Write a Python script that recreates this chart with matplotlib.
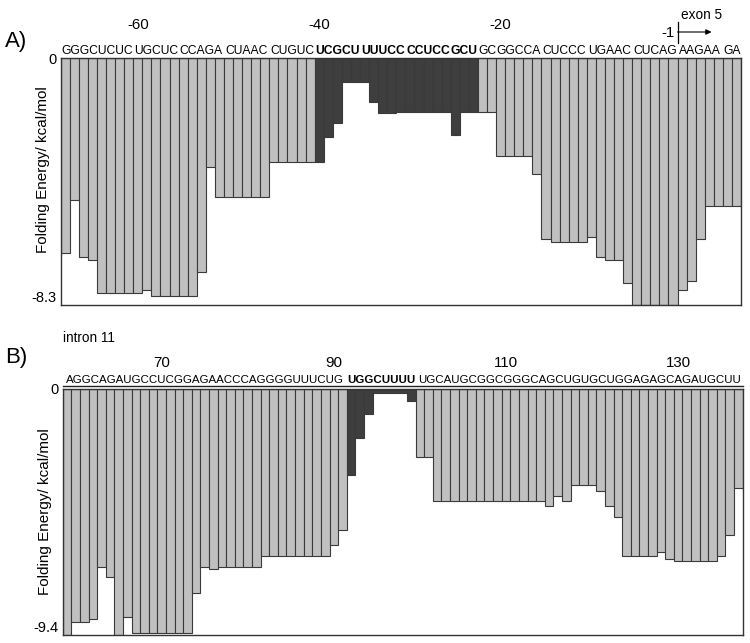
import numpy as np
import matplotlib
matplotlib.use("Agg")
import matplotlib.pyplot as plt
from matplotlib.transforms import blended_transform_factory

plt.rcParams['font.family'] = ['Liberation Sans', 'DejaVu Sans']

# ---------------- data ----------------
# Panel A: region upstream of exon 5 (numbering -68 .. -1, then exon +1 .. +7)
A_seq = "GGGCUCUC UGCUC CCAGA CUAAC CUGUC UCGCU UUUCC CCUCC GCUGC GGCCA CUCCC UGAAC CUCAG AAGAA GA"
A_numbers = list(range(-68, 0)) + list(range(1, 8))
A_bold = (-40, -23)
A_ticks = [-60, -40, -20]
A_exon_label = "exon 5"
A_ymin = -8.3
A_energy = [-6.56, -4.77, -6.70, -6.79, -7.88, -7.88, -7.88, -7.88, -7.88, -7.80,
            -7.99, -7.99, -7.99, -7.99, -7.99, -7.18, -3.67, -4.67, -4.67, -4.67,
            -4.67, -4.67, -4.67, -3.50, -3.50, -3.50, -3.50, -3.50, -3.50, -2.67,
            -2.18, -0.79, -0.79, -0.79, -1.48, -1.84, -1.84, -1.81, -1.81, -1.81,
            -1.81, -1.81, -1.81, -2.58, -1.80, -1.80, -1.80, -1.80, -3.29, -3.29,
            -3.29, -3.29, -3.89, -6.09, -6.19, -6.19, -6.19, -6.19, -6.00, -6.70,
            -6.79, -6.79, -7.57, -8.30, -8.30, -8.30, -8.30, -8.30, -7.80, -7.48,
            -6.09, -4.99, -4.99, -4.99, -4.99]

# Panel B: intron 11
B_seq = "AGGCAGAUGCCUCGGAGAACCCAGGGGUUUCUGUGGCUUUUUGCAUGCGGCGGGCAGCUGUGCUGGAGAGCAGAUGCUU"
B_first = 59
B_numbers = list(range(B_first, B_first + 79))
B_bold = (92, 99)
B_ticks = [70, 90, 110, 130]
B_region_label = "intron 11"
B_ymin = -9.4
B_energy = [-9.40, -8.89, -8.89, -8.79, -6.81, -7.19, -9.40, -8.70, -9.31, -9.31,
            -9.31, -9.31, -9.31, -9.31, -9.31, -7.81, -6.81, -6.89, -6.79, -6.79,
            -6.79, -6.79, -6.79, -6.38, -6.38, -6.38, -6.38, -6.38, -6.38, -6.38,
            -6.38, -5.96, -5.38, -3.30, -1.88, -0.96, -0.15, -0.15, -0.15, -0.15,
            -0.47, -2.58, -2.58, -4.27, -4.27, -4.27, -4.27, -4.27, -4.27, -4.27,
            -4.27, -4.27, -4.27, -4.27, -4.27, -4.27, -4.46, -4.07, -4.27, -3.67,
            -3.67, -3.67, -3.88, -4.46, -4.89, -6.40, -6.40, -6.40, -6.40, -6.21,
            -6.49, -6.59, -6.59, -6.59, -6.59, -6.59, -6.40, -5.59, -3.79]

# ---------------- style ----------------
LIGHT = "#c0c0c0"
DARK = "#3e3e3e"
EDGE = "#3a3a3a"
W, H = 750, 643

fig = plt.figure(figsize=(W / 100, H / 100), dpi=100)
axA = fig.add_axes([60.7 / W, 1 - 305 / H, (741 - 60.7) / W, (305 - 58) / H])
axB = fig.add_axes([62.7 / W, 1 - 635 / H, (742.7 - 62.7) / W, (635 - 389) / H])


def draw_panel(ax, energy, numbers, bold, ymin, ylab_y):
    n = len(energy)
    x = np.arange(n)
    colors = [DARK if bold[0] <= num <= bold[1] else LIGHT for num in numbers]
    ax.bar(x, energy, width=1.0, color=colors, edgecolor=EDGE, linewidth=0.8)
    ax.set_xlim(-0.5, n - 0.5)
    ax.set_ylim(ymin, 0)
    ax.set_xticks([])
    ax.set_yticks([ymin, 0])
    ax.set_yticklabels([f"{ymin:g}", "0"])
    ax.tick_params(axis='y', length=0, pad=3, labelsize=10.5)
    ax.get_yticklabels()[0].set_verticalalignment('bottom')
    for sp in ax.spines.values():
        sp.set_color("#333333")
        sp.set_linewidth(1.0)
    ax.set_ylabel("Folding Energy/ kcal/mol", fontsize=11)
    ax.yaxis.set_label_coords(-0.0157, ylab_y)


def draw_sequence(ax, seq, numbers, bold, off_px, fontsize):
    trans = blended_transform_factory(ax.transData, ax.transAxes)
    idx = 0
    runs = []
    for group in seq.split(' '):
        cur = None
        for ch in group:
            b = bold[0] <= numbers[idx] <= bold[1]
            if cur is not None and cur[3] == b:
                cur[1] = idx
                cur[2] += ch
            else:
                cur = [idx, idx, ch, b]
                runs.append(cur)
            idx += 1
    for s, e, txt, b in runs:
        ax.annotate(txt, xy=((s + e) / 2, 1), xycoords=trans,
                    xytext=(0, off_px), textcoords='offset pixels',
                    ha='center', va='baseline', fontsize=fontsize,
                    fontweight='bold' if b else 'normal',
                    annotation_clip=False)


def tick_labels(ax, numbers, ticks, off_px, fontsize=10.8):
    trans = blended_transform_factory(ax.transData, ax.transAxes)
    for t in ticks:
        i = numbers.index(t)
        ax.annotate(f"{t}", xy=(i, 1), xycoords=trans, xytext=(0, off_px),
                    textcoords='offset pixels', ha='center', va='center',
                    fontsize=fontsize, annotation_clip=False)


# ---- Panel A ----
draw_panel(axA, A_energy, A_numbers, A_bold, A_ymin, 0.547)
draw_sequence(axA, A_seq, A_numbers, A_bold, 4.5, 8.7)
tick_labels(axA, A_numbers, A_ticks, 33)

# exon boundary marker
transA = blended_transform_factory(axA.transData, axA.transAxes)
hA = axA.bbox.height
bar_px = axA.bbox.width / len(A_energy)
bnd = A_numbers.index(-1) + 0.5
axA.plot([bnd, bnd], [1 + 15 / hA, 1 + 36 / hA], transform=transA,
         color='k', lw=0.9, clip_on=False)
axA.annotate('', xy=(bnd + 34 / bar_px, 1 + 26 / hA), xycoords=transA,
             xytext=(bnd, 1 + 26 / hA), textcoords=transA,
             arrowprops=dict(arrowstyle='-|>', color='k', lw=0.8,
                             mutation_scale=8, shrinkA=0, shrinkB=0),
             annotation_clip=False)
axA.annotate("-1", xy=(bnd, 1), xycoords=transA, xytext=(-3, 25),
             textcoords='offset pixels', ha='right', va='center',
             fontsize=10.8, annotation_clip=False)
axA.annotate(A_exon_label, xy=(bnd, 1), xycoords=transA, xytext=(3, 43),
             textcoords='offset pixels', ha='left', va='center',
             fontsize=9.8, annotation_clip=False)

# ---- Panel B ----
draw_panel(axB, B_energy, B_numbers, B_bold, B_ymin, 0.5)
draw_sequence(axB, B_seq, B_numbers, B_bold, 6, 8.25)
tick_labels(axB, B_numbers, B_ticks, 26)
transB = blended_transform_factory(axB.transData, axB.transAxes)
hB = axB.bbox.height
axB.plot([-0.5, len(B_energy) - 0.5], [1 + 3 / hB, 1 + 3 / hB], transform=transB,
         color='#222222', lw=1.0, clip_on=False)
axB.annotate(B_region_label, xy=(-0.5, 1), xycoords=transB, xytext=(0, 51),
             textcoords='offset pixels', ha='left', va='center',
             fontsize=9.8, annotation_clip=False)

# panel letters
fig.text(5 / W, 1 - 41 / H, "A)", fontsize=16, ha='left', va='center')
fig.text(5 / W, 1 - 358 / H, "B)", fontsize=16, ha='left', va='center')

fig.savefig("out.png", dpi=100)
